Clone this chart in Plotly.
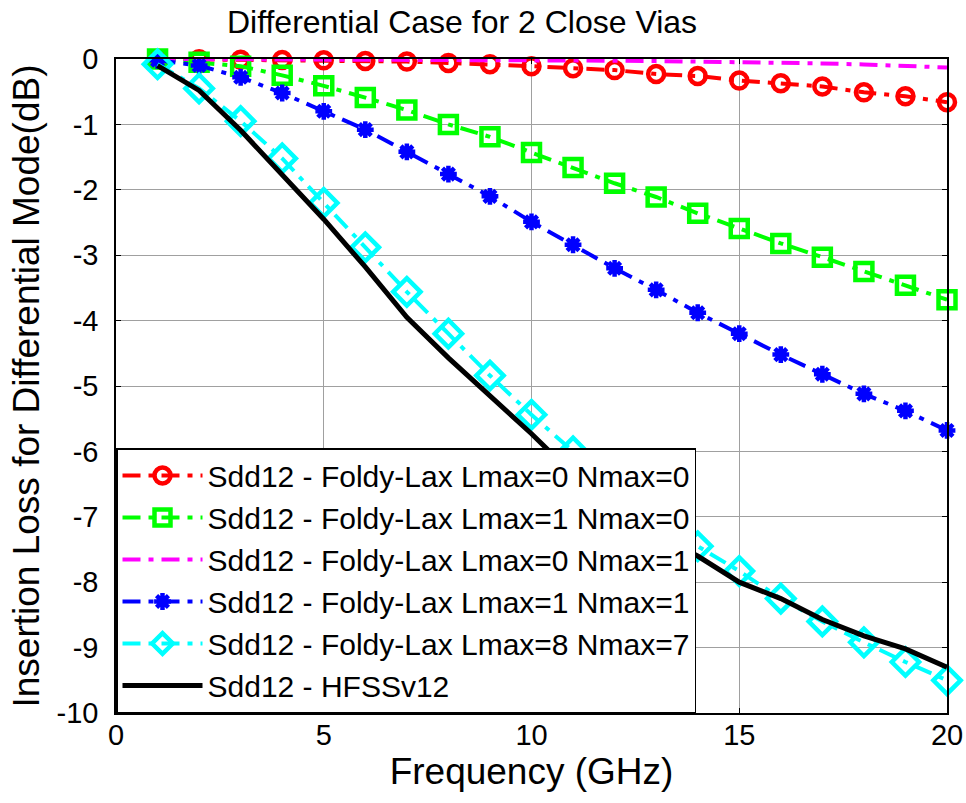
import plotly.graph_objects as go

freq = list(range(1, 21))

fl_L0_N0 = [0.0, -0.005, -0.01, -0.015, -0.02, -0.03, -0.04, -0.06, -0.08, -0.11,
            -0.14, -0.17, -0.23, -0.26, -0.33, -0.37, -0.42, -0.51, -0.57, -0.66]
fl_L1_N0 = [0.0, -0.05, -0.11, -0.25, -0.41, -0.59, -0.78, -1.0, -1.19, -1.43,
            -1.66, -1.9, -2.11, -2.36, -2.59, -2.82, -3.03, -3.25, -3.46, -3.68]
fl_L0_N1 = [0.0, -0.001, -0.002, -0.003, -0.005, -0.007, -0.009, -0.012, -0.015, -0.018,
            -0.022, -0.026, -0.031, -0.037, -0.044, -0.055, -0.068, -0.083, -0.1, -0.13]
fl_L1_N1 = [-0.02, -0.1, -0.28, -0.52, -0.8, -1.08, -1.42, -1.76, -2.1, -2.49,
            -2.84, -3.2, -3.53, -3.88, -4.2, -4.52, -4.82, -5.12, -5.38, -5.68]
fl_L8_N7 = [-0.08, -0.45, -0.95, -1.52, -2.2, -2.88, -3.56, -4.2, -4.84, -5.44,
            -6.0, -6.5, -7.0, -7.45, -7.83, -8.25, -8.6, -8.92, -9.22, -9.5]
hfss = [-0.1, -0.48, -1.09, -1.76, -2.45, -3.18, -3.95, -4.57, -5.15, -5.73,
        -6.35, -6.88, -7.28, -7.6, -8.0, -8.25, -8.57, -8.82, -9.02, -9.3]

names = [
    "Sdd12 - Foldy-Lax Lmax=0 Nmax=0",
    "Sdd12 - Foldy-Lax Lmax=1 Nmax=0",
    "Sdd12 - Foldy-Lax Lmax=0 Nmax=1",
    "Sdd12 - Foldy-Lax Lmax=1 Nmax=1",
    "Sdd12 - Foldy-Lax Lmax=8 Nmax=7",
    "Sdd12 - HFSSv12",
]

x_ticks = [0, 5, 10, 15, 20]
y_ticks = list(range(-10, 1))

DASHDOT = "18px,8px,5px,8px"
FONT = "Liberation Sans, Arial, sans-serif"

fig = go.Figure()
fig.add_trace(go.Scatter(x=freq, y=fl_L0_N0, name=names[0], mode="lines+markers", cliponaxis=False,
                         line=dict(color="#ff0000", width=4, dash=DASHDOT),
                         marker=dict(symbol="circle-open", size=16, color="#ff0000", line=dict(width=4.5))))
fig.add_trace(go.Scatter(x=freq, y=fl_L1_N0, name=names[1], mode="lines+markers", cliponaxis=False,
                         line=dict(color="#00ff00", width=4, dash=DASHDOT),
                         marker=dict(symbol="square-open", size=17, color="#00ff00", line=dict(width=4.5))))
fig.add_trace(go.Scatter(x=freq, y=fl_L0_N1, name=names[2], mode="lines", cliponaxis=False,
                         line=dict(color="#ff00ff", width=4, dash=DASHDOT)))
fig.add_trace(go.Scatter(x=freq, y=fl_L1_N1, name=names[3], mode="lines+markers", cliponaxis=False,
                         line=dict(color="#0000ff", width=4, dash=DASHDOT),
                         marker=dict(symbol="asterisk-open", size=14, color="#0000ff", line=dict(width=4.5))))
fig.add_trace(go.Scatter(x=freq, y=fl_L8_N7, name=names[4], mode="lines+markers", cliponaxis=False,
                         line=dict(color="#00ffff", width=4, dash=DASHDOT),
                         marker=dict(symbol="diamond-open", size=21, color="#00ffff", line=dict(width=4.5))))
fig.add_trace(go.Scatter(x=freq, y=hfss, name=names[5], mode="lines", cliponaxis=False,
                         line=dict(color="#000000", width=5)))

axis_common = dict(
    showgrid=True, gridcolor="#a0a0a0", gridwidth=1,
    showline=True, linecolor="black", linewidth=1.5, mirror="ticks",
    ticks="inside", ticklen=5, tickcolor="black",
    tickfont=dict(family=FONT, size=29, color="black"),
    zeroline=False,
)

fig.update_layout(
    width=966, height=803,
    paper_bgcolor="white", plot_bgcolor="white",
    margin=dict(l=116, r=19, t=59, b=90, autoexpand=False),
    title=dict(text="Differential Case for 2 Close Vias", x=462 / 966, xref="container", xanchor="center",
               y=22 / 803, yref="paper", yanchor="middle",
               font=dict(family=FONT, size=32, color="black")),
    font=dict(family=FONT, color="black"),
    xaxis=dict(range=[0, 20], tickvals=x_ticks, ticktext=[str(v) for v in x_ticks],
               title=dict(text="Frequency (GHz)", font=dict(family=FONT, size=37), standoff=6),
               ticklabelstandoff=-5, **axis_common),
    yaxis=dict(range=[-10, 0], tickvals=y_ticks, ticktext=[str(v) for v in y_ticks],
               title=dict(text="Insertion Loss for Differential Mode(dB)", font=dict(family=FONT, size=37), standoff=6),
               ticklabelstandoff=10, **axis_common),
    legend=dict(x=0, y=0, xanchor="left", yanchor="bottom", xref="paper", yref="paper",
                bgcolor="white", bordercolor="black", borderwidth=1.5,
                font=dict(family=FONT, size=30, color="black"),
                itemwidth=80, tracegroupgap=0),
    showlegend=True,
)
fig.update_layout(title=dict(y=1 - 22 / 803, yref="container"))

fig.write_html("out.html")
